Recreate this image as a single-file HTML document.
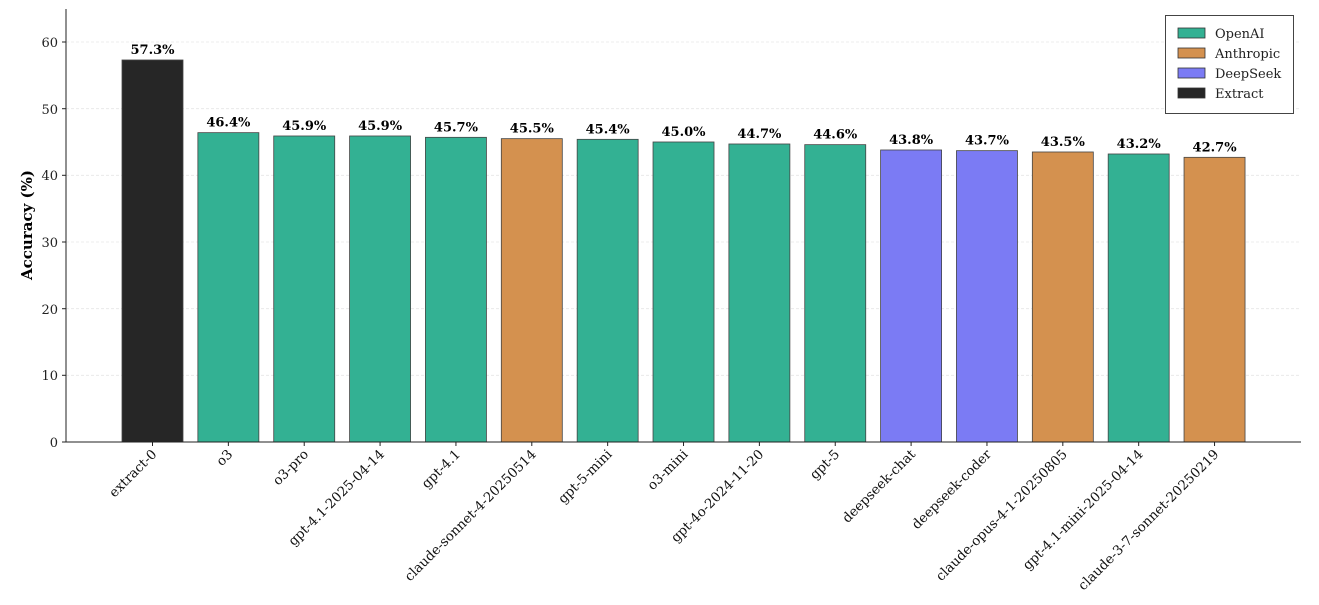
<!DOCTYPE html>
<html><head><meta charset="utf-8"><style>html,body{margin:0;padding:0;background:#fff}</style></head>
<body>
<svg width="1319" height="600" xmlns="http://www.w3.org/2000/svg" font-family="'DejaVu Serif','Liberation Serif',serif">
<rect width="1319" height="600" fill="#fff"/>
<g stroke="#e6e6e6" stroke-width="0.8" stroke-dasharray="3,2">
<line x1="66" x2="1300" y1="375.3" y2="375.3"/>
<line x1="66" x2="1300" y1="308.7" y2="308.7"/>
<line x1="66" x2="1300" y1="242" y2="242"/>
<line x1="66" x2="1300" y1="175.3" y2="175.3"/>
<line x1="66" x2="1300" y1="108.7" y2="108.7"/>
<line x1="66" x2="1300" y1="42" y2="42"/>
</g>
<g id="bars" stroke="#444" stroke-width="0.8"></g>
<g id="vals" font-size="13" font-weight="bold" text-anchor="middle" fill="#000"></g>
<g id="xl" font-size="13.3" text-anchor="end" fill="#111"></g>
<line x1="66" y1="9" x2="66" y2="442" stroke="#222" stroke-width="1"/>
<line x1="66" y1="442" x2="1301" y2="442" stroke="#222" stroke-width="1"/>
<g font-size="13" text-anchor="end" fill="#222">
<text x="58" y="447">0</text><text x="58" y="380">10</text><text x="58" y="314">20</text>
<text x="58" y="247">30</text><text x="58" y="180">40</text><text x="58" y="114">50</text><text x="58" y="47">60</text>
</g>
<g stroke="#222"><line x1="62" x2="66" y1="442" y2="442"/><line x1="62" x2="66" y1="375.3" y2="375.3"/><line x1="62" x2="66" y1="308.7" y2="308.7"/><line x1="62" x2="66" y1="242" y2="242"/><line x1="62" x2="66" y1="175.3" y2="175.3"/><line x1="62" x2="66" y1="108.7" y2="108.7"/><line x1="62" x2="66" y1="42" y2="42"/></g>
<text transform="translate(32,225) rotate(-90)" font-size="15" font-weight="bold" text-anchor="middle">Accuracy (%)</text>
<rect x="1165.5" y="15.5" width="128" height="98" fill="#fff" stroke="#444" stroke-width="1"/>
<g stroke="#333" stroke-width="0.8">
<rect x="1178" y="28" width="27" height="10" fill="#33b193"/>
<rect x="1178" y="48" width="27" height="10" fill="#d4914f"/>
<rect x="1178" y="68" width="27" height="10" fill="#7b7bf4"/>
<rect x="1178" y="88" width="27" height="10" fill="#262626"/>
</g>
<g font-size="13" fill="#222">
<text x="1215" y="38">OpenAI</text><text x="1215" y="58">Anthropic</text><text x="1215" y="78">DeepSeek</text><text x="1215" y="98">Extract</text>
</g>
<script>
const d=[["extract-0",57.3,"#262626"],["o3",46.4,"#33b193"],["o3-pro",45.9,"#33b193"],["gpt-4.1-2025-04-14",45.9,"#33b193"],["gpt-4.1",45.7,"#33b193"],["claude-sonnet-4-20250514",45.5,"#d4914f"],["gpt-5-mini",45.4,"#33b193"],["o3-mini",45.0,"#33b193"],["gpt-4o-2024-11-20",44.7,"#33b193"],["gpt-5",44.6,"#33b193"],["deepseek-chat",43.8,"#7b7bf4"],["deepseek-coder",43.7,"#7b7bf4"],["claude-opus-4-1-20250805",43.5,"#d4914f"],["gpt-4.1-mini-2025-04-14",43.2,"#33b193"],["claude-3-7-sonnet-20250219",42.7,"#d4914f"]];
const ns="http://www.w3.org/2000/svg";
const B=document.getElementById("bars"),V=document.getElementById("vals"),X=document.getElementById("xl");
d.forEach((r,i)=>{const cx=152.5+i*75.86,y=442-r[1]*6.667;
let e=document.createElementNS(ns,"rect");e.setAttribute("x",cx-30.5);e.setAttribute("y",y);e.setAttribute("width",61);e.setAttribute("height",442-y);e.setAttribute("fill",r[2]);B.appendChild(e);
let t=document.createElementNS(ns,"text");t.setAttribute("x",cx);t.setAttribute("y",y-6);t.textContent=r[1].toFixed(1)+"%";V.appendChild(t);
let l=document.createElementNS(ns,"text");l.setAttribute("transform",`translate(${cx+5},${455}) rotate(-45)`);l.textContent=r[0];X.appendChild(l);
let k=document.createElementNS(ns,"line");k.setAttribute("x1",cx);k.setAttribute("x2",cx);k.setAttribute("y1",442);k.setAttribute("y2",446);k.setAttribute("stroke","#222");B.parentNode.appendChild(k);});
</script>
</svg>
</body></html>
